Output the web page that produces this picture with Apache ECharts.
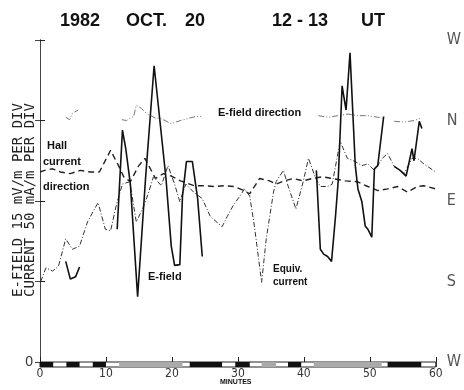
<!DOCTYPE html>
<html>
<head>
<meta charset="utf-8">
<script src="https://cdn.jsdelivr.net/npm/echarts@6/dist/echarts.min.js"></script>
<style>
  html, body { margin: 0; padding: 0; background: #fff; }
  #chart { width: 464px; height: 390px; }
</style>
</head>
<body>
<div id="chart"></div>
<script>
// minutes after 12 UT, values in divisions (0..4)
const eField = [
    [3.9, 1.25], [4.6, 1.03], [5.4, 1.06], [6.0, 1.18], null,
    [11.7, 1.65], [12.5, 2.88], [13.0, 2.65], [13.7, 2.21], [14.8, 0.81], [16.0, 2.28],
    [17.3, 3.68], [19.1, 2.28], [19.9, 1.44], [20.4, 1.2], [21.2, 1.21], [21.6, 2.06],
    [22.2, 2.49], [23.1, 2.49], [23.9, 2.03], [24.6, 1.31], null,
    [41.9, 2.38], [42.5, 1.4], [43.0, 1.34], [43.6, 1.31], [44.2, 1.25], [44.8, 1.81],
    [45.2, 2.24], [45.8, 3.43], [46.4, 3.13], [47.0, 3.84], [47.8, 2.44], [48.2, 2.15],
    [48.8, 1.99], [49.3, 1.69], [49.7, 1.65], [50.3, 1.55], [50.7, 2.4], [51.2, 2.44],
    [52.1, 3.05], null,
    [53.7, 2.43], [54.6, 2.38], [55.5, 2.31], [56.4, 2.65], [56.7, 2.5], [57.5, 2.99], [57.9, 2.9]
];
const equivCurrent = [
    [0.1, 1.0], [0.9, 1.17], [1.9, 1.13], [2.8, 1.19], [3.9, 1.53], [4.9, 1.4], [6.0, 1.44],
    [7.2, 1.74], [8.8, 1.98], [9.9, 1.65], [10.7, 1.63], [11.6, 1.96], [12.5, 2.21],
    [13.6, 2.24], [14.6, 1.74], [15.7, 1.93], [16.4, 2.09], [17.2, 2.3], [18.4, 2.19],
    [19.4, 2.44], [20.4, 2.21], [21.2, 1.99], [22.1, 2.21], [23.3, 2.11], [24.6, 2.03],
    [25.8, 1.81], [27.6, 1.68], [28.4, 1.81], [29.4, 1.96], [30.3, 2.06], [31.0, 2.15],
    [31.8, 2.06], [32.5, 1.69], [33.6, 0.99], [34.3, 1.53], [35.4, 2.11], [35.8, 2.24],
    [36.9, 2.38], [37.6, 2.19], [38.8, 1.9], [39.9, 2.24], [40.7, 2.53], [41.8, 2.28],
    [42.5, 2.18], [43.6, 2.18], [44.3, 2.21], [45.5, 2.74], [46.6, 2.53], [47.8, 2.49],
    [48.8, 2.44], [49.7, 2.46], [50.7, 2.38], [51.9, 2.53], [52.7, 2.59], [53.7, 2.43],
    [55.2, 2.34], [56.4, 2.53], [57.2, 2.53], [58.2, 2.46], [60.0, 2.36]
];
const hallDirection = [
    [0, 2.36], [0.7, 2.38], [1.9, 2.4], [3.1, 2.36], [4.6, 2.34], [6.1, 2.38], [7.6, 2.36],
    [9.0, 2.36], [10.7, 2.63], [11.9, 2.44], [12.7, 2.3], [13.7, 2.24], [14.9, 2.43],
    [15.9, 2.53], [17.5, 2.28], [18.7, 2.34], [19.9, 2.31], [21.3, 2.25], [23.4, 2.19],
    [24.9, 2.19], [26.4, 2.18], [27.9, 2.19], [29.4, 2.18], [30.9, 2.13], [31.8, 2.09],
    [33.3, 2.28], [34.8, 2.25], [35.8, 2.21], [37.0, 2.25], [38.4, 2.28], [39.9, 2.25],
    [41.3, 2.28], [42.8, 2.3], [44.3, 2.28], [46.3, 2.25], [48.1, 2.24], [49.7, 2.18],
    [51.2, 2.13], [52.7, 2.15], [54.2, 2.18], [55.7, 2.11], [57.2, 2.18], [58.2, 2.19], [60, 2.15]
];
const eDirection = [
    [3.9, 3.04], [4.5, 3.01], [4.9, 3.09], [5.8, 3.13], null,
    [12.4, 3.01], [13.1, 3.0], [14.2, 3.05], [14.6, 3.19], [15.4, 3.15], [16.1, 3.09],
    [17.5, 3.03], [18.2, 3.03], [19.9, 2.96], [21.3, 3.0], [23.6, 3.05], [24.6, 3.05], null,
    [42.2, 3.06], [43.7, 3.04], [45.2, 3.06], [46.7, 3.08], [48.2, 3.06], [49.7, 3.06],
    [51.2, 3.04], [51.9, 3.03], null,
    [53.7, 2.99], [55.2, 2.98], [56.7, 3.0], [57.8, 3.03]
];
// data coverage strip along the time axis: [start, end, kind]
const coverage = [
    [0, 60, 'white'],
    [0, 2, 'black'], [4, 6, 'black'], [8, 10, 'black'], [12, 21.6, 'gray'],
    [22.7, 27.6, 'black'], [29.6, 31.8, 'black'], [33.6, 35.8, 'gray'], [37.6, 39.6, 'black'],
    [41.5, 51.8, 'gray'], [52.7, 57.8, 'black']
];
const xTicks = [0, 10, 20, 30, 40, 50, 60];
const directionLabels = ['W', 'S', 'E', 'N', 'W'];

const kindColor = { white: '#fff', black: '#111', gray: '#aaa' };

const chart = echarts.init(document.getElementById('chart'), null, { renderer: 'canvas' });

const boldLabel = (text, x, y, size) => ({
    type: 'text', left: x, top: y,
    style: { text: text, font: 'bold ' + size + 'px "Liberation Sans", Arial, sans-serif', fill: '#111' }
});

chart.setOption({
    animation: false,
    backgroundColor: '#fff',
    grid: { left: 40, right: 22, top: 40, bottom: 28 },
    xAxis: [
        {
            type: 'value', min: 0, max: 60, interval: 10, position: 'bottom',
            axisLine: { lineStyle: { color: '#222', width: 1 } },
            axisTick: { inside: true, length: 5, lineStyle: { color: '#222' } },
            axisLabel: {
                margin: 6, color: '#333', fontSize: 12,
                fontFamily: '"Liberation Sans Narrow", "DejaVu Sans Condensed", sans-serif',
                formatter: v => xTicks.includes(v) ? String(v) : ''
            },
            splitLine: { show: false }
        },
        {
            type: 'value', min: 0, max: 60, interval: 10, position: 'top',
            axisLine: { show: true, lineStyle: { color: '#666', width: 1 } },
            axisTick: { inside: true, length: 5, lineStyle: { color: '#444' } },
            axisLabel: { show: false },
            splitLine: { show: false }
        }
    ],
    yAxis: [
        {
            type: 'value', min: 0, max: 4, interval: 1, position: 'left',
            axisLine: { show: true, lineStyle: { color: '#222', width: 1 } },
            axisTick: { show: true, inside: true, length: 5, lineStyle: { color: '#222' } },
            axisLabel: {
                margin: 7, color: '#333', fontSize: 14,
                fontFamily: '"Liberation Sans Narrow", sans-serif',
                formatter: v => v === 0 ? '0' : ''
            },
            splitLine: { show: false }
        },
        {
            type: 'value', min: 0, max: 4, interval: 1, position: 'right',
            axisLine: { show: true, lineStyle: { color: '#444', width: 1 } },
            axisTick: { show: true, inside: true, length: 5, lineStyle: { color: '#444' } },
            axisLabel: {
                margin: 11, color: '#555', fontSize: 16, fontWeight: 200,
                fontFamily: '"DejaVu Sans Condensed", "Liberation Sans Narrow", sans-serif',
                formatter: v => directionLabels[v]
            },
            splitLine: { show: false }
        }
    ],
    graphic: [
        boldLabel('1982', 60, 12, 18),
        boldLabel('OCT.', 126, 12, 18),
        boldLabel('20', 185, 12, 18),
        boldLabel('12 - 13', 272, 12, 18),
        boldLabel('UT', 361, 12, 18),
        boldLabel('Hall', 47, 140, 11),
        boldLabel('current', 43, 156, 11),
        boldLabel('direction', 43, 181, 11),
        boldLabel('E-field direction', 218, 107, 11),
        boldLabel('E-field', 148, 271, 11),
        boldLabel('Equiv.', 273, 264, 10),
        boldLabel('current', 273, 277, 10),
        boldLabel('MINUTES', 220, 379, 7),
        {
            type: 'text', x: 18.5, y: 200, rotation: Math.PI / 2,
            style: {
                text: 'E-FIELD 15 mV/m PER DIV', align: 'center', verticalAlign: 'middle',
                font: '14px "DejaVu Sans Mono", monospace', fill: '#222'
            }
        },
        {
            type: 'text', x: 30, y: 200, rotation: Math.PI / 2,
            style: {
                text: 'CURRENT 50 mA/m PER DIV', align: 'center', verticalAlign: 'middle',
                font: '14px "DejaVu Sans Mono", monospace', fill: '#222'
            }
        }
    ],
    series: [
        {
            name: 'E-field direction', type: 'line', data: eDirection, showSymbol: false,
            lineStyle: { color: '#777', width: 1, type: [6, 2, 1, 2, 1, 2] }
        },
        {
            name: 'Hall current direction', type: 'line', data: hallDirection, showSymbol: false,
            lineStyle: { color: '#222', width: 1.4, type: [6, 4] }
        },
        {
            name: 'Equiv. current', type: 'line', data: equivCurrent, showSymbol: false,
            lineStyle: { color: '#333', width: 1, type: [5, 2, 1, 2] }
        },
        {
            name: 'E-field', type: 'line', data: eField, showSymbol: false,
            lineStyle: { color: '#111', width: 1.6 }
        },
        {
            name: 'coverage', type: 'custom', clip: false, z: 5,
            data: coverage.map(c => [c[0], c[1], 0]),
            encode: { x: [0, 1], y: 2 },
            renderItem: (params, api) => {
                const kind = coverage[params.dataIndex][2];
                const a = api.coord([api.value(0), 0]);
                const b = api.coord([api.value(1), 0]);
                return {
                    type: 'rect',
                    shape: { x: a[0], y: a[1], width: b[0] - a[0], height: 5 },
                    style: {
                        fill: kindColor[kind],
                        stroke: kind === 'white' ? '#222' : null,
                        lineWidth: 1
                    }
                };
            }
        }
    ]
});
</script>
</body>
</html>
